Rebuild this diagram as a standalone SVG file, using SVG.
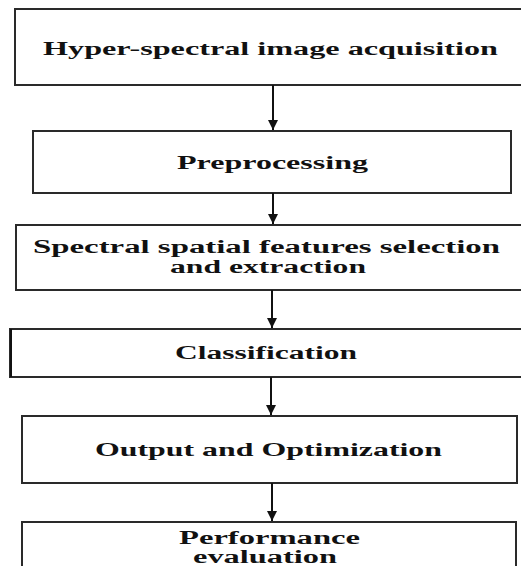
<svg xmlns="http://www.w3.org/2000/svg" width="521" height="566" viewBox="0 0 521 566">
<defs>
<style>
.box{fill:#fff;stroke:#2a2a2a;stroke-width:2}
.lbl{font-family:"Liberation Serif","Times New Roman",serif;font-weight:bold;font-size:18px;fill:#111;text-anchor:start}
.conn{stroke:#111;stroke-width:2;fill:none}
</style>
<marker id="ah" viewBox="0 0 10 10" refX="10" refY="5" markerWidth="10" markerHeight="10" markerUnits="userSpaceOnUse" orient="auto">
<path d="M0,0 L10,5 L0,10 z" fill="#111"/>
</marker>
</defs>
<rect width="521" height="566" fill="#fff"/>
<g id="n1">
<rect class="box" x="15" y="9" width="520" height="76"/>
<text class="lbl" x="43" y="55" textLength="455" lengthAdjust="spacingAndGlyphs">Hyper-spectral image acquisition</text>
</g>
<g id="n2">
<rect class="box" x="33" y="131" width="478" height="62"/>
<text class="lbl" x="177" y="169" textLength="191" lengthAdjust="spacingAndGlyphs">Preprocessing</text>
</g>
<g id="n3">
<rect class="box" x="16" y="225" width="520" height="65"/>
<text class="lbl" x="33" y="253" textLength="467" lengthAdjust="spacingAndGlyphs">Spectral spatial features selection</text>
<text class="lbl" x="170" y="273" textLength="196" lengthAdjust="spacingAndGlyphs">and extraction</text>
</g>
<g id="n4">
<rect class="box" x="10" y="329" width="525" height="48"/>
<rect x="10" y="329" width="2" height="48" fill="#111"/>
<text class="lbl" x="175" y="359" textLength="182" lengthAdjust="spacingAndGlyphs">Classification</text>
</g>
<g id="n5">
<rect class="box" x="22" y="416" width="495" height="67"/>
<text class="lbl" x="95" y="456" textLength="347" lengthAdjust="spacingAndGlyphs" style="font-size:19px">Output and Optimization</text>
</g>
<g id="n6">
<rect class="box" x="22" y="522" width="494" height="60"/>
<text class="lbl" x="179" y="544" textLength="181" lengthAdjust="spacingAndGlyphs">Performance</text>
<text class="lbl" x="193" y="563" textLength="144" lengthAdjust="spacingAndGlyphs">evaluation</text>
</g>
<g id="connectors">
<line class="conn" x1="273" y1="85" x2="273" y2="130" marker-end="url(#ah)"/>
<line class="conn" x1="273" y1="193" x2="273" y2="224" marker-end="url(#ah)"/>
<line class="conn" x1="272" y1="290" x2="272" y2="328" marker-end="url(#ah)"/>
<line class="conn" x1="271" y1="377" x2="271" y2="415" marker-end="url(#ah)"/>
<line class="conn" x1="272" y1="483" x2="272" y2="521" marker-end="url(#ah)"/>
</g>
</svg>
